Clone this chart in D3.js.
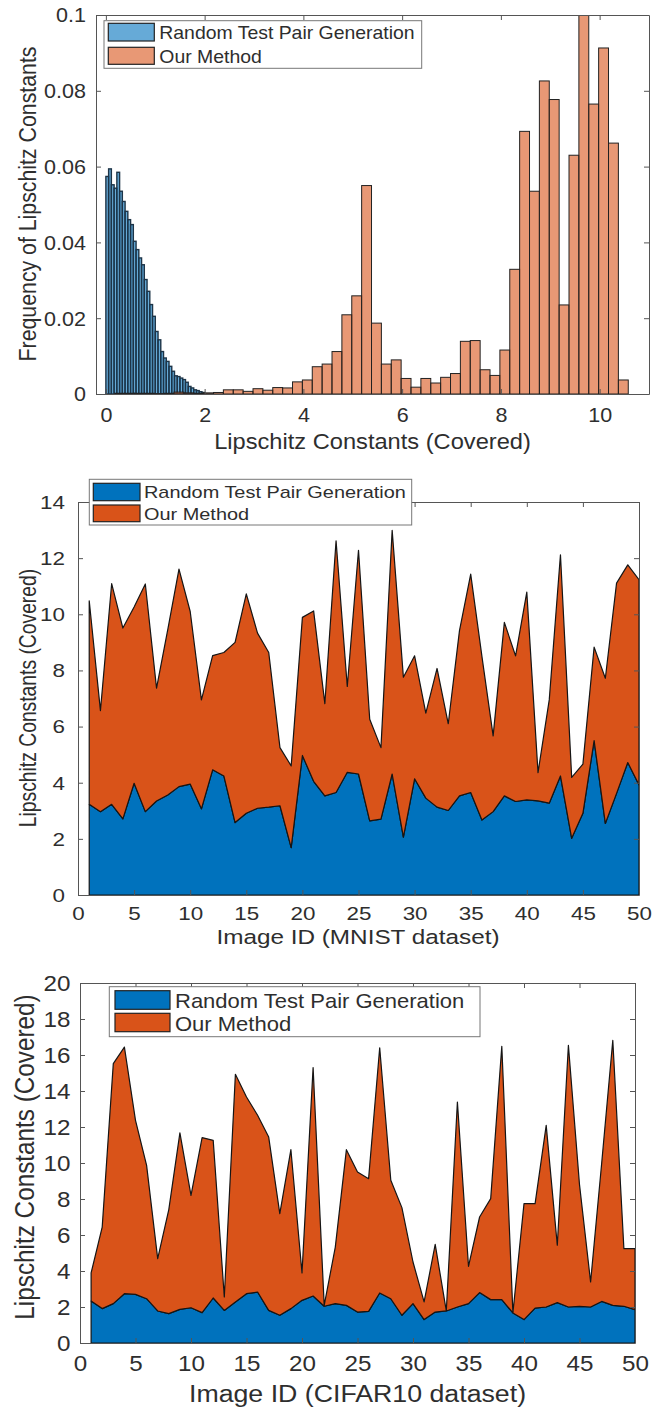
<!DOCTYPE html>
<html>
<head>
<meta charset="utf-8">
<script src="https://cdnjs.cloudflare.com/ajax/libs/d3/7.8.5/d3.min.js"></script>
<style>
  body { margin: 0; background: #fff; }
  svg { display: block; font-family: "Liberation Sans", Arial, sans-serif; }
</style>
</head>
<body>
<svg id="chart" width="665" height="1408"></svg>
<script>
// ---------- data ----------
const seriesNames = ["Random Test Pair Generation", "Our Method"]

// histogram of Lipschitz constants (frequency per bin)
const randomBinStart = 0, randomBinWidth = 0.0556
const randomFreq = [0.0574, 0.0594, 0.0552, 0.0543, 0.0585, 0.0535, 0.0508, 0.0482, 0.0460, 0.0447,
    0.0403, 0.0381, 0.0359, 0.0341, 0.0302, 0.0271, 0.0236, 0.0205, 0.0165, 0.0143,
    0.0112, 0.0095, 0.0086, 0.0073, 0.0060, 0.0048, 0.0046, 0.0042, 0.0038, 0.0031,
    0.0020, 0.0016, 0.0011, 0.0009, 0.0006, 0.0004]
const oursBinStart = 0.18, oursBinWidth = 0.2
const oursFreq = [0.0002, 0.0002, 0.0002, 0.0002, 0.0001, 0.0002, 0.0005, 0.0003, 0.0002, 0.0003,
    0.0004, 0.0011, 0.0011, 0.0007, 0.0014, 0.0010, 0.0017, 0.0016, 0.0032, 0.0037,
    0.0072, 0.0079, 0.0112, 0.0209, 0.0259, 0.0550, 0.0187, 0.0079, 0.0090, 0.0041,
    0.0018, 0.0041, 0.0029, 0.0044, 0.0054, 0.0139, 0.0141, 0.0064, 0.0049, 0.0116,
    0.0329, 0.0693, 0.0535, 0.0826, 0.0777, 0.0235, 0.0630, 0.1000, 0.0765, 0.0913,
    0.0662, 0.0037]

// per-image values (stacked areas), image IDs 1..50
const imageIds = [1, 2, 3, 4, 5, 6, 7, 8, 9, 10, 11, 12, 13, 14, 15, 16, 17, 18, 19, 20,
    21, 22, 23, 24, 25, 26, 27, 28, 29, 30, 31, 32, 33, 34, 35, 36, 37, 38, 39, 40,
    41, 42, 43, 44, 45, 46, 47, 48, 49, 50]
const mnistRandom = [3.23, 2.97, 3.23, 2.71, 3.98, 2.97, 3.35, 3.56, 3.86, 3.95,
    3.07, 4.46, 4.24, 2.58, 2.91, 3.09, 3.13, 3.18, 1.69, 4.97,
    4.05, 3.53, 3.65, 4.37, 4.31, 2.64, 2.70, 4.31, 2.06, 4.14,
    3.45, 3.13, 3.01, 3.53, 3.65, 2.67, 2.97, 3.53, 3.33, 3.39,
    3.35, 3.27, 4.24, 2.02, 2.91, 5.50, 2.55, 3.62, 4.72, 3.92]
const mnistOurs = [7.25, 3.60, 7.86, 6.80, 6.28, 8.11, 4.02, 5.89, 7.75, 6.15,
    3.88, 4.07, 4.40, 6.42, 7.82, 6.24, 5.51, 2.07, 2.91, 4.92,
    6.07, 3.29, 8.97, 3.06, 7.97, 3.62, 2.55, 8.68, 5.70, 4.38,
    3.03, 4.94, 3.09, 5.89, 7.78, 5.83, 2.70, 6.18, 5.19, 7.40,
    1.01, 3.68, 7.88, 2.17, 1.75, 3.33, 5.17, 7.49, 7.04, 7.31]
const cifarRandom = [2.33, 1.91, 2.19, 2.74, 2.70, 2.46, 1.78, 1.63, 1.87, 1.96,
    1.69, 2.50, 1.81, 2.28, 2.74, 2.83, 1.81, 1.54, 1.91, 2.37,
    2.61, 2.04, 2.19, 2.09, 1.72, 1.76, 2.78, 2.46, 1.54, 2.19,
    1.30, 1.72, 1.78, 2.00, 2.19, 2.80, 2.41, 2.41, 1.67, 1.30,
    1.94, 2.00, 2.24, 2.00, 2.04, 2.00, 2.31, 2.09, 2.04, 1.85]
const cifarOurs = [1.56, 4.53, 13.33, 13.70, 9.67, 7.41, 2.91, 5.78, 9.80, 6.24,
    9.72, 8.76, 0.75, 12.65, 10.93, 9.82, 9.63, 5.65, 8.83, 1.52,
    12.69, 0.05, 3.14, 8.65, 7.78, 7.37, 13.62, 6.58, 5.98, 2.31,
    0.98, 3.76, 0.00, 11.39, 2.07, 4.20, 5.61, 14.07, 0.00, 6.44,
    5.80, 10.09, 3.19, 14.54, 6.76, 1.39, 7.69, 14.72, 3.20, 3.39]

// tick values
const histXTicks = [0, 2, 4, 6, 8, 10]
const histYTicks = [0, 0.02, 0.04, 0.06, 0.08, 0.1]
const idTicks = [0, 5, 10, 15, 20, 25, 30, 35, 40, 45, 50]
const mnistYTicks = [0, 2, 4, 6, 8, 10, 12, 14]
const cifarYTicks = [0, 2, 4, 6, 8, 10, 12, 14, 16, 18, 20]

// ---------- drawing ----------
const BLUE = "#0072BD", ORANGE = "#D95319"
const TEXT = "#2e2e2e", AXIS = "#555"
const svg = d3.select("#chart")

// each panel was squeezed differently, so text gets a horizontal stretch (sx)
function frame(p, x, y, xTicks, yTicks, xFmt, yFmt) {
    const g = svg.append("g")
    const add = (axis, tx, ty) => g.append("g")
        .attr("transform", `translate(${tx},${ty})`)
        .call(axis)
        .attr("font-family", null).attr("font-size", p.tick)

    const bottom = add(d3.axisBottom(x).tickValues(xTicks).tickFormat(xFmt).tickSizeInner(-5).tickSizeOuter(0), 0, p.bottom)
    const left = add(d3.axisLeft(y).tickValues(yTicks).tickFormat(yFmt).tickSizeInner(-5).tickSizeOuter(0), p.left, 0)
    add(d3.axisTop(x).tickValues(xTicks).tickFormat("").tickSizeInner(-5).tickSizeOuter(0), 0, p.top)
    add(d3.axisRight(y).tickValues(yTicks).tickFormat("").tickSizeInner(-5).tickSizeOuter(0), p.right, 0)

    g.selectAll(".domain, .tick line").attr("stroke", AXIS).attr("stroke-width", 1)

    bottom.selectAll(".tick text")
        .attr("y", null).attr("dy", null).attr("fill", TEXT)
        .attr("transform", `translate(0,${p.tickDown}) scale(${p.sx},1)`)
    left.selectAll(".tick text")
        .attr("x", null).attr("dy", "0.36em").attr("fill", TEXT)
        .attr("transform", `translate(${-p.tickGap},0) scale(${p.sx},1)`)

    svg.append("text")
        .attr("transform", `translate(${p.xLabelX},${p.xLabelY}) scale(${p.sx},1)`)
        .attr("text-anchor", "middle").attr("font-size", p.label).attr("fill", TEXT)
        .text(p.xLabel)
    svg.append("text")
        .attr("transform", `translate(${p.yLabelX},${p.yLabelY}) rotate(-90) scale(1,${p.sx})`)
        .attr("text-anchor", "middle").attr("dy", "0.36em").attr("font-size", p.label).attr("fill", TEXT)
        .text(p.yLabel)
}

function legend(p, colors, opacity) {
    const L = p.legend
    const g = svg.append("g")
    g.append("rect")
        .attr("x", L.x).attr("y", L.y).attr("width", L.w).attr("height", L.h)
        .attr("fill", "#fff").attr("stroke", "#777").attr("stroke-width", 1)
    L.rows.forEach((r, i) => {
        g.append("rect")
            .attr("x", L.sx).attr("y", r.sy).attr("width", L.sw).attr("height", r.sh)
            .attr("fill", colors[i]).attr("fill-opacity", opacity)
            .attr("stroke", "#222").attr("stroke-width", 1.2)
        g.append("text")
            .attr("transform", `translate(${L.tx},${r.base}) scale(${p.sx},1)`)
            .attr("font-size", L.font).attr("fill", TEXT)
            .text(seriesNames[i])
    })
}

function clip(id, p) {
    svg.append("clipPath").attr("id", id)
        .append("rect").attr("x", p.left).attr("y", p.top)
        .attr("width", p.right - p.left).attr("height", p.bottom - p.top)
}

// ---- panel 1: histogram ----
{
    const p = {
        left: 96, right: 649, top: 15, bottom: 394,
        sx: 1.11, tick: 19.4, label: 21.3, tickDown: 28, tickGap: 10,
        xLabel: "Lipschitz Constants (Covered)", xLabelX: 372.5, xLabelY: 449,
        yLabel: "Frequency of Lipschitz Constants", yLabelX: 27, yLabelY: 204,
        legend: { x: 104, y: 20.7, w: 317.7, h: 47.6, sx: 108.3, sw: 46, tx: 159.3, font: 17.5,
            rows: [{ sy: 23.3, sh: 17.7, base: 39.3 }, { sy: 47.3, sh: 17, base: 62.7 }] }
    }
    const x = d3.scaleLinear().domain([-0.2, 11]).range([p.left, p.right])
    const y = d3.scaleLinear().domain([0, 0.1]).range([p.bottom, p.top])
    clip("clip1", p)

    const bars = (vals, start, w, color, stroke, sw) => svg.append("g")
        .attr("clip-path", "url(#clip1)")
        .selectAll("rect")
        .data(vals)
        .join("rect")
        .attr("x", (d, i) => x(start + i * w))
        .attr("width", (d, i) => x(start + (i + 1) * w) - x(start + i * w))
        .attr("y", d => y(d))
        .attr("height", d => y(0) - y(d))
        .attr("fill", color).attr("fill-opacity", 0.6)
        .attr("stroke", stroke).attr("stroke-width", sw)

    bars(randomFreq, randomBinStart, randomBinWidth, BLUE, "#1d3447", 1.4)
    bars(oursFreq, oursBinStart, oursBinWidth, ORANGE, "#222", 1)

    frame(p, x, y, histXTicks, histYTicks, d3.format("~g"), d3.format("~g"))
    legend(p, [BLUE, ORANGE], 0.6)
}

// ---- panels 2 & 3: stacked areas ----
function areaPanel(p, clipId, randomVals, oursVals, yMax, yTicks) {
    const rows = imageIds.map((id, i) => ({ id, random: randomVals[i], ours: oursVals[i] }))
    const stacked = d3.stack().keys(["random", "ours"])(rows)

    const x = d3.scaleLinear().domain([0, 50]).range([p.left, p.right])
    const y = d3.scaleLinear().domain([0, yMax]).range([p.bottom, p.top])
    clip(clipId, p)

    const area = d3.area()
        .x(d => x(d.data.id))
        .y0(d => y(d[0]))
        .y1(d => y(d[1]))

    svg.append("g")
        .attr("clip-path", `url(#${clipId})`)
        .selectAll("path")
        .data(stacked)
        .join("path")
        .attr("d", area)
        .attr("fill", (d, i) => [BLUE, ORANGE][i])
        .attr("stroke", "#151515").attr("stroke-width", 1.2).attr("stroke-linejoin", "round")

    frame(p, x, y, idTicks, yTicks, d3.format("d"), d3.format("d"))
    legend(p, [BLUE, ORANGE], 1)
}

areaPanel({
    left: 78, right: 639, top: 502, bottom: 895,
    sx: 1.26, tick: 17.8, label: 19.3, tickDown: 25, tickGap: 13,
    xLabel: "Image ID (MNIST dataset)", xLabelX: 358, xLabelY: 944,
    yLabel: "Lipschitz Constants (Covered)", yLabelX: 27.5, yLabelY: 698,
    legend: { x: 89.3, y: 479.3, w: 322.4, h: 45.7, sx: 93.3, sw: 46.7, tx: 144, font: 15.8,
        rows: [{ sy: 483.3, sh: 17.4, base: 498.3 }, { sy: 505, sh: 16.7, base: 520 }] }
}, "clip2", mnistRandom, mnistOurs, 14, mnistYTicks)

areaPanel({
    left: 80, right: 635, top: 983, bottom: 1343,
    sx: 1.1, tick: 22, label: 24.3, tickDown: 28, tickGap: 9.5,
    xLabel: "Image ID (CIFAR10 dataset)", xLabelX: 357.5, xLabelY: 1402,
    yLabel: "Lipschitz Constants (Covered)", yLabelX: 24, yLabelY: 1157,
    legend: { x: 109.3, y: 986.7, w: 370.7, h: 50, sx: 115, sw: 55, tx: 175, font: 20,
        rows: [{ sy: 990.7, sh: 18.6, base: 1008.3 }, { sy: 1013.3, sh: 18.4, base: 1031 }] }
}, "clip3", cifarRandom, cifarOurs, 20, cifarYTicks)
</script>
</body>
</html>
